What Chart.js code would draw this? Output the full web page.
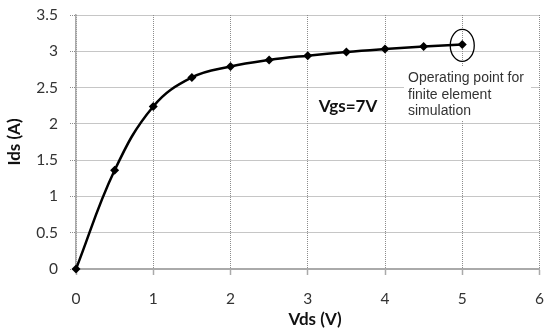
<!DOCTYPE html>
<html>
<head>
<meta charset="utf-8">
<script src="https://cdn.jsdelivr.net/npm/chart.js@4.4.1/dist/chart.umd.min.js"></script>
<style>
  html, body { margin: 0; padding: 0; background: #fff; }
  #wrap { width: 544px; height: 330px; }
</style>
</head>
<body>
<div id="wrap"><canvas id="ivCurve" width="544" height="330"></canvas></div>
<script>
// drain-source sweep at Vgs = 7 V
const vds = [0, 0.5, 1, 1.5, 2, 2.5, 3, 3.5, 4, 4.5, 5];
const ids = [0, 1.36, 2.24, 2.64, 2.79, 2.88, 2.94, 2.99, 3.03, 3.065, 3.095];
const xRange = [0, 6, 1];      // min, max, step
const yRange = [0, 3.5, 0.5];
const noteLines = ["Operating point for", "finite element", "simulation"];
const gateLabel = "Vgs=7V";
const xTitle = "Vds (V)";
const yTitle = "Ids (A)";

const opIndex = vds.length - 1; // circled operating point

const annotations = {
  id: "annotations",
  afterDatasetsDraw(chart) {
    const { ctx, scales: { x, y } } = chart;
    ctx.save();

    // ring around the operating point
    const px = x.getPixelForValue(vds[opIndex]);
    const py = y.getPixelForValue(ids[opIndex]);
    ctx.beginPath();
    ctx.ellipse(px, py + 1, 12, 16, 0, 0, Math.PI * 2);
    ctx.strokeStyle = "#000";
    ctx.lineWidth = 1.3;
    ctx.stroke();

    // note box
    ctx.fillStyle = "#fff";
    ctx.fillRect(404, 66, 127, 55);
    ctx.fillStyle = "#333";
    ctx.font = "14px 'Liberation Sans', Arial, sans-serif";
    ctx.textAlign = "left";
    ctx.textBaseline = "alphabetic";
    noteLines.forEach((t, i) => ctx.fillText(t, 408, 82 + i * 16.5));

    // gate voltage label
    ctx.fillStyle = "#111";
    ctx.font = "bold 17px Lato, sans-serif";
    ctx.textAlign = "center";
    ctx.textBaseline = "middle";
    ctx.fillText(gateLabel, 348, 107);

    // axis titles
    ctx.fillText(xTitle, 315, 320);
    ctx.translate(15, 142);
    ctx.rotate(-Math.PI / 2);
    ctx.fillText(yTitle, 0, 0);
    ctx.restore();
  }
};

const zeroPad = s => { s.paddingLeft = s.paddingRight = s.paddingTop = s.paddingBottom = 0; };
const plainTick = v => String(v);

new Chart(document.getElementById("ivCurve"), {
  type: "scatter",
  data: {
    datasets: [{
      data: vds.map((v, i) => ({ x: v, y: ids[i] })),
      showLine: true,
      tension: 0.4,
      borderColor: "#000",
      borderWidth: 2.5,
      pointStyle: "rectRot",
      pointRadius: 4.5,
      pointBackgroundColor: "#000",
      pointBorderColor: "#000",
      pointBorderWidth: 0,
      clip: false
    }]
  },
  options: {
    responsive: false,
    animation: false,
    layout: { padding: { top: 15, right: 4, left: 0, bottom: 0 } },
    plugins: { legend: { display: false }, tooltip: { enabled: false } },
    scales: {
      x: {
        type: "linear",
        min: xRange[0], max: xRange[1],
        afterFit: s => { s.height = 61; zeroPad(s); },
        ticks: {
          stepSize: xRange[2],
          padding: 15,
          color: "#333",
          callback: plainTick,
          font: { family: "Lato, sans-serif", size: 15.5 }
        },
        grid: {
          color: "#8c8c8c",
          lineWidth: 1,
          tickLength: 6,
          tickColor: "#aaa",
          tickWidth: 1.5
        },
        border: { color: "#aaa", width: 2, dash: [1, 1] }
      },
      y: {
        type: "linear",
        min: yRange[0], max: yRange[1],
        afterFit: s => { s.width = 76; zeroPad(s); },
        ticks: {
          stepSize: yRange[2],
          padding: 12,
          color: "#333",
          callback: plainTick,
          font: { family: "Lato, sans-serif", size: 15.5 }
        },
        grid: {
          color: "#8c8c8c",
          lineWidth: 1,
          tickLength: 6,
          tickBorderDash: [1, 1]
        },
        border: { color: "#aaa", width: 1.5, dash: [1, 1] }
      }
    }
  },
  plugins: [annotations]
});
</script>
</body>
</html>
